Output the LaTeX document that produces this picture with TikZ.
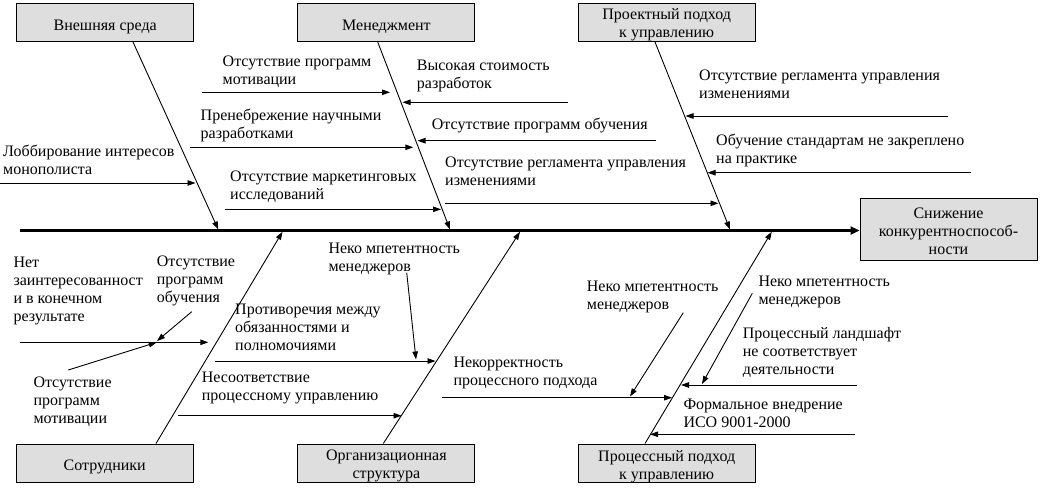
\documentclass[tikz,border=0pt]{standalone}
\usepackage{fontspec}
\setmainfont{Liberation Serif}
\usetikzlibrary{arrows.meta,calc}
\definecolor{boxgray}{RGB}{222,222,222}
\begin{document}
\begin{tikzpicture}[x=1pt,y=-1pt,
  fs/.style={font=\fontsize{16}{18}\selectfont},
  txt/.style={fs,anchor=north west,inner sep=0pt,align=left},
  box/.style={draw,line width=1pt,fill=boxgray,minimum width=177pt,minimum height=38.5pt,inner sep=0pt},
  boxtxt/.style={fs,align=center,inner sep=0pt},
  arr/.style={line width=0.9pt,-{Triangle[length=8pt,width=5.5pt]}},
  spine/.style={line width=2.4pt,-{Triangle[length=9pt,width=8pt]}}]
\useasboundingbox (0,0) rectangle (1040,487);

% boxes
\node[box] (bVS) at (105.2,22.5) {};
\node[boxtxt] (tVS) at ([yshift=-4pt]bVS.center) {Внешняя среда};
\node[box] (bM) at (386.4,22.5) {};
\node[boxtxt] (tM) at ([yshift=-4pt]bM.center) {Менеджмент};
\node[box] (bP) at (666.7,22.5) {};
\node[boxtxt] (tP) at ([yshift=-2pt]bP.center) {Проектный подход\\к управлению};
\node[box] (bS) at (104.7,463.3) {};
\node[boxtxt] (tS) at ([yshift=-4pt]bS.center) {Сотрудники};
\node[box] (bO) at (386.4,463.3) {};
\node[boxtxt] (tO) at ([yshift=-3pt]bO.center) {Организационная\\структура};
\node[box] (bPr) at (666.7,463.3) {};
\node[boxtxt] (tPr) at ([yshift=-3pt]bPr.center) {Процессный подход\\к управлению};
\node[box,minimum height=61.7pt] (bR) at (948.5,229.2) {};
\node[boxtxt] (tR) at ([yshift=-2pt]bR.center) {Снижение\\конкурентноспособ-\\ности};

% spine
\coordinate (sp0) at (20,230.5);
\draw[spine] (sp0) -- (sp0 -| bR.west);

% bones
\coordinate (a0) at (133,42);    \coordinate (a1) at (218.3,229.5);
\coordinate (b0) at (377.7,42);  \coordinate (b1) at (450,229.5);
\coordinate (c0) at (655,42);    \coordinate (c1) at (730,229.5);
\coordinate (d0) at (156,443.5); \coordinate (d1) at (282.5,231.8);
\coordinate (e0) at (383.3,443.5); \coordinate (e1) at (520,231.8);
\coordinate (f0) at (645,443.5); \coordinate (f1) at (771.7,231.8);
\draw[arr] (a0) -- (a1);
\draw[arr] (b0) -- (b1);
\draw[arr] (c0) -- (c1);
\draw[arr] (d0) -- (d1);
\draw[arr] (e0) -- (e1);
\draw[arr] (f0) -- (f1);

% top texts
\node[txt] (tLob) at (3,145) {Лоббирование интересов\\монополиста};
\node[txt] (tMot) at (222.5,56) {Отсутствие программ\\мотивации};
\node[txt] (tPren) at (200.5,109) {Пренебрежение научными\\разработками};
\node[txt] (tMark) at (230,171) {Отсутствие маркетинговых\\исследований};
\node[txt] (tVys) at (416.7,60) {Высокая стоимость\\разработок};
\node[txt] (tObu) at (431.7,118) {Отсутствие программ обучения};
\node[txt] (tRegM) at (445,157) {Отсутствие регламента управления\\изменениями};
\node[txt] (tRegP) at (699,70) {Отсутствие регламента управления\\изменениями};
\node[txt] (tStd) at (716,134) {Обучение стандартам не закреплено\\на практике};

% bottom texts
\node[txt] (tNet) at (13.3,257) {Нет\\заинтересованност\\и в конечном\\результате};
\node[txt] (tObuS) at (156.7,255.7) {Отсутствие\\программ\\обучения};
\node[txt] (tMotS) at (33.3,377) {Отсутствие\\программ\\мотивации};
\node[txt] (tProt) at (235,304) {Противоречия между\\обязанностями и\\полномочиями};
\node[txt] (tNkO) at (328.3,243) {Неко мпетентность\\менеджеров};
\node[txt] (tNes) at (201.7,372) {Несоответствие\\процессному управлению};
\node[txt] (tNekor) at (453.3,357) {Некорректность\\процессного подхода};
\node[txt] (tNkP1) at (586.7,280.7) {Неко мпетентность\\менеджеров};
\node[txt] (tNkP2) at (758.3,275.7) {Неко мпетентность\\менеджеров};
\node[txt] (tLand) at (742.7,326.7) {Процессный ландшафт\\не соответствует\\деятельности};
\node[txt] (tForm) at (683.3,399) {Формальное внедрение\\ИСО 9001-2000};

% top cause arrows
\coordinate (lobS) at (0,183);       \coordinate (lobE) at (195.5,183);
\coordinate (motS) at (202,92.3);    \coordinate (motE) at (390,92.3);
\coordinate (prenS) at (190,147.3);  \coordinate (prenE) at (413.3,147.3);
\coordinate (markS) at (225,209.3);  \coordinate (markE) at (441,209.3);
\coordinate (vysS) at (568,102.3);   \coordinate (vysE) at (402.5,102.3);
\coordinate (obuS) at (656,140.7);   \coordinate (obuE) at (417.5,140.7);
\coordinate (regMS) at (445,203.3);  \coordinate (regME) at (718.5,203.3);
\coordinate (regPS) at (948,116);    \coordinate (regPE) at (685.5,116);
\coordinate (stdS) at (970.7,172.7); \coordinate (stdE) at (707.5,172.7);
\draw[arr] (lobS) -- (lobE);
\draw[arr] (motS) -- (motE);
\draw[arr] (prenS) -- (prenE);
\draw[arr] (markS) -- (markE);
\draw[arr] (vysS) -- (vysE);
\draw[arr] (obuS) -- (obuE);
\draw[arr] (regMS) -- (regME);
\draw[arr] (regPS) -- (regPE);
\draw[arr] (stdS) -- (stdE);

% bottom cause arrows
\coordinate (netS) at (20,342.3);      \coordinate (netE) at (208.3,342.3);
\coordinate (obsS) at (191.7,311.7);   \coordinate (obsE) at (157,341);
\coordinate (mosS) at (68.3,370);      \coordinate (mosE) at (156.7,342.3);
\coordinate (protS) at (215,361);      \coordinate (protE) at (435.5,361);
\coordinate (nkoS) at (406.7,272.7);   \coordinate (nkoE) at (416,359.5);
\coordinate (nesS) at (178.3,415.7);   \coordinate (nesE) at (401.5,415.7);
\coordinate (nekS) at (441.7,397.7);   \coordinate (nekE) at (672,397.7);
\coordinate (nk1S) at (683.3,312.7);   \coordinate (nk1E) at (630,396.5);
\coordinate (nk2S) at (752.3,293.3);   \coordinate (nk2E) at (702,384);
\coordinate (lanS) at (857,385);       \coordinate (lanE) at (681,385);
\coordinate (forS) at (855,434.3);     \coordinate (forE) at (650,434.3);
\draw[arr] (netS) -- (netE);
\draw[arr] (obsS) -- (obsE);
\draw[arr] (mosS) -- (mosE);
\draw[arr] (protS) -- (protE);
\draw[arr] (nkoS) -- (nkoE);
\draw[arr] (nesS) -- (nesE);
\draw[arr] (nekS) -- (nekE);
\draw[arr] (nk1S) -- (nk1E);
\draw[arr] (nk2S) -- (nk2E);
\draw[arr] (lanS) -- (lanE);
\draw[arr] (forS) -- (forE);
\end{tikzpicture}
\end{document}
